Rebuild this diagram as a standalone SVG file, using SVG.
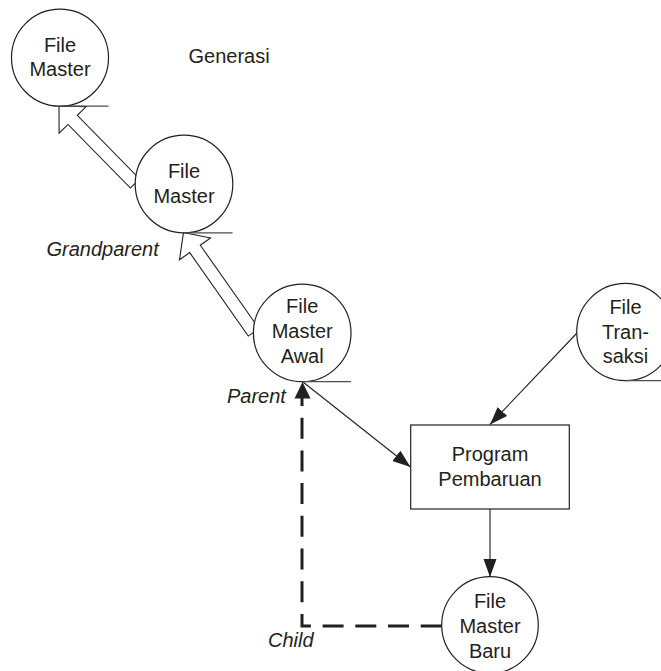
<svg xmlns="http://www.w3.org/2000/svg" width="661" height="671" viewBox="0 0 661 671">
<style>
  .node circle, .node rect { fill: #ffffff; stroke: #231f20; stroke-width: 1.2; }
  .t { font-family: "Liberation Sans", Arial, sans-serif; font-size: 20px; fill: #231f20; text-anchor: middle; }
  .lbl { font-family: "Liberation Sans", Arial, sans-serif; font-size: 20px; fill: #231f20; }
  .it { font-style: italic; }
  .under { stroke: #4d4d4f; stroke-width: 1.2; fill: none; }
  .hollow { fill: #ffffff; stroke: #231f20; stroke-width: 1.1; stroke-linejoin: miter; }
  .flow { stroke: #231f20; stroke-width: 1.1; fill: none; }
  .dash { stroke: #231f20; stroke-width: 3; fill: none; stroke-dasharray: 21 11.7; }
  .head { fill: #231f20; stroke: none; }
</style>
<defs>
  <marker id="arr" markerUnits="userSpaceOnUse" markerWidth="19" markerHeight="14" refX="18" refY="6.5" orient="auto">
    <path class="head" d="M0,0 L18,6.5 L0,13 Z"/>
  </marker>
</defs>
<rect x="0" y="0" width="661" height="671" fill="#ffffff"/>

<g id="connectors">
  <polygon class="hollow" points="59,106 86.2,106.6 77.3,115.35 139.6,178.95 130.4,188.05 68,124.45 59.1,133.2"/>
  <polygon class="hollow" points="183.5,232.5 210.5,238 200.3,245.2 259,328.6 248.3,336.1 189.7,252.6 179.5,259.8"/>
  <line class="flow" x1="303" y1="382" x2="410.5" y2="467" marker-end="url(#arr)"/>
  <line class="flow" x1="577" y1="333" x2="490" y2="424.5" marker-end="url(#arr)"/>
  <line class="flow" x1="490" y1="509" x2="490" y2="577" marker-end="url(#arr)"/>
  <path class="dash" d="M441.7,626 L302,626 L302,398"/>
  <polygon class="head" points="302.5,382 310.5,398.5 294.5,398.5"/>
</g>

<g id="fm1" class="node">
  <circle cx="60" cy="57.7" r="48.5"/>
  <line class="under" x1="60" y1="106.2" x2="108.5" y2="106.2"/>
  <text class="t" x="60" y="52">File</text>
  <text class="t" x="60" y="76">Master</text>
</g>

<g id="fm2" class="node">
  <circle cx="184" cy="184" r="48.8"/>
  <line class="under" x1="184" y1="232.8" x2="232.5" y2="232.8"/>
  <text class="t" x="184" y="178">File</text>
  <text class="t" x="184" y="202.5">Master</text>
</g>

<g id="fm-awal" class="node">
  <circle cx="302.2" cy="332.9" r="48.8"/>
  <line class="under" x1="302.2" y1="381.7" x2="351" y2="381.7"/>
  <text class="t" x="302.2" y="313.3">File</text>
  <text class="t" x="302.2" y="338.3">Master</text>
  <text class="t" x="302.2" y="363.3">Awal</text>
</g>

<g id="f-transaksi" class="node">
  <circle cx="625.4" cy="332" r="48.7"/>
  <line class="under" x1="625.4" y1="380.7" x2="661" y2="380.7"/>
  <text class="t" x="625.5" y="314">File</text>
  <text class="t" x="625.5" y="338.5">Tran-</text>
  <text class="t" x="625.5" y="363">saksi</text>
</g>

<g id="program" class="node">
  <rect x="410.7" y="425" width="158.6" height="84"/>
  <text class="t" x="490" y="461">Program</text>
  <text class="t" x="490" y="486">Pembaruan</text>
</g>

<g id="fm-baru" class="node">
  <circle cx="490" cy="625" r="48.3"/>
  <text class="t" x="490" y="608.3">File</text>
  <text class="t" x="490" y="633.3">Master</text>
  <text class="t" x="490" y="657.5">Baru</text>
</g>

<g id="labels">
  <text class="lbl" x="188.5" y="63.3">Generasi</text>
  <text class="lbl it" x="46.5" y="256">Grandparent</text>
  <text class="lbl it" x="227" y="403.3">Parent</text>
  <text class="lbl it" x="268" y="646.5">Child</text>
</g>
</svg>
